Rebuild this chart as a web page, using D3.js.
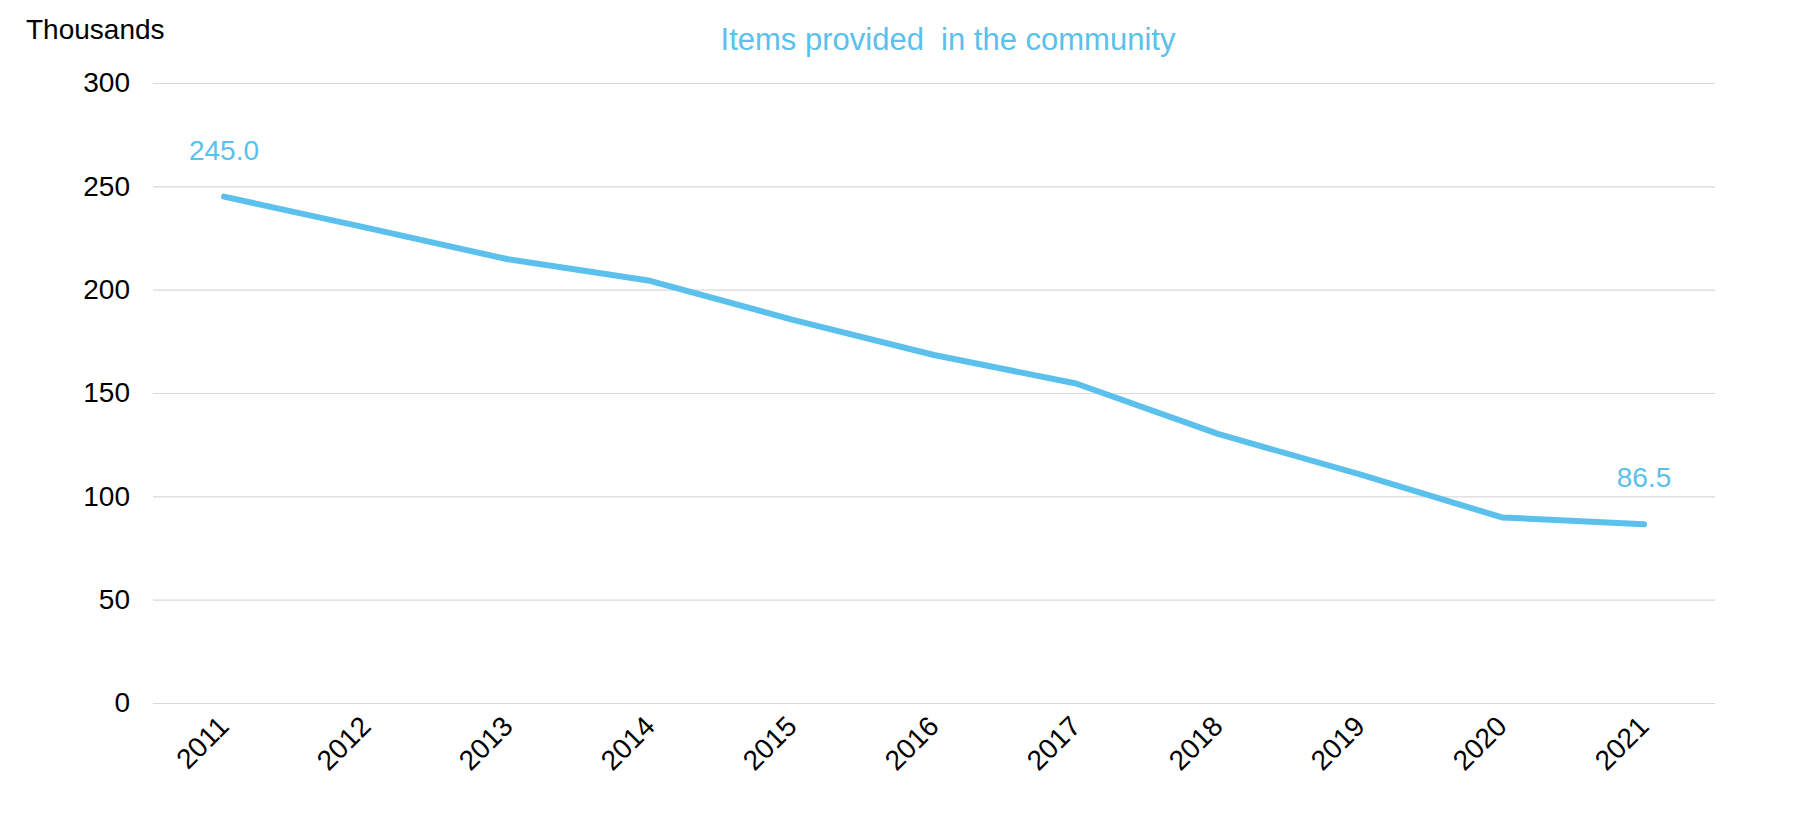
<!DOCTYPE html>
<html>
<head>
<meta charset="utf-8">
<script src="https://cdn.jsdelivr.net/npm/d3@7"></script>
<style>
  html, body { margin: 0; padding: 0; background: #fff; }
  svg { display: block; font-family: "Liberation Sans", Arial, sans-serif; }
  .grid line { stroke: #d9d9d9; stroke-width: 1.2; }
  .grid path.domain { display: none; }
</style>
</head>
<body>
<div id="chart"></div>
<script>
// chart data
const years = ['2011', '2012', '2013', '2014', '2015', '2016', '2017', '2018', '2019', '2020', '2021'];
const items = [245.0, 230.0, 214.7, 204.3, 185.5, 168.4, 154.6, 130.2, 110.6, 89.8, 86.5];
const yTicks = [0, 50, 100, 150, 200, 250, 300];
const labelledYears = ['2011', '2021'];

const width = 1819;
const height = 831;
const margin = {top: 83, right: 104, bottom: 128, left: 153};
const lineColor = '#5bc0eb';

const svg = d3.select('#chart')
  .append('svg')
  .attr('width', width)
  .attr('height', height);

const x = d3.scalePoint()
  .domain(years)
  .range([margin.left, width - margin.right])
  .padding(0.5);

const y = d3.scaleLinear()
  .domain([0, 300])
  .range([height - margin.bottom, margin.top]);

// horizontal gridlines + y labels
const yAxis = svg.append('g')
  .attr('class', 'grid')
  .attr('transform', 'translate(' + margin.left + ',0)')
  .call(d3.axisLeft(y)
    .tickValues(yTicks)
    .tickSize(-(width - margin.left - margin.right))
    .tickPadding(23));

yAxis.selectAll('text')
  .attr('fill', '#000')
  .style('font-size', '28px');

// x labels, rotated
const xAxis = svg.append('g')
  .attr('transform', 'translate(0,' + y(0) + ')')
  .call(d3.axisBottom(x).tickSize(0));

xAxis.select('path.domain').remove();
xAxis.selectAll('text')
  .attr('fill', '#000')
  .style('font-size', '28px')
  .attr('text-anchor', 'end')
  .attr('dy', null)
  .attr('y', 0)
  .attr('transform', 'translate(6,25) rotate(-45)');

// the series line
const line = d3.line()
  .x((d, i) => x(years[i]))
  .y(d => y(d));

svg.append('path')
  .datum(items)
  .attr('fill', 'none')
  .attr('stroke', lineColor)
  .attr('stroke-width', 6)
  .attr('stroke-linecap', 'round')
  .attr('stroke-linejoin', 'round')
  .attr('d', line);

// value labels for first and last point
svg.append('g')
  .selectAll('text')
  .data(labelledYears)
  .enter()
  .append('text')
  .attr('x', d => x(d))
  .attr('y', d => y(items[years.indexOf(d)]) - 37)
  .attr('text-anchor', 'middle')
  .attr('fill', lineColor)
  .style('font-size', '28px')
  .text(d => items[years.indexOf(d)].toFixed(1));

// title and unit label
svg.append('text')
  .attr('x', 948)
  .attr('y', 50)
  .attr('text-anchor', 'middle')
  .attr('fill', lineColor)
  .style('font-size', '31px')
  .style('white-space', 'pre')
  .text('Items provided  in the community');

svg.append('text')
  .attr('x', 26)
  .attr('y', 39)
  .attr('fill', '#000')
  .style('font-size', '28px')
  .text('Thousands');
</script>
</body>
</html>
